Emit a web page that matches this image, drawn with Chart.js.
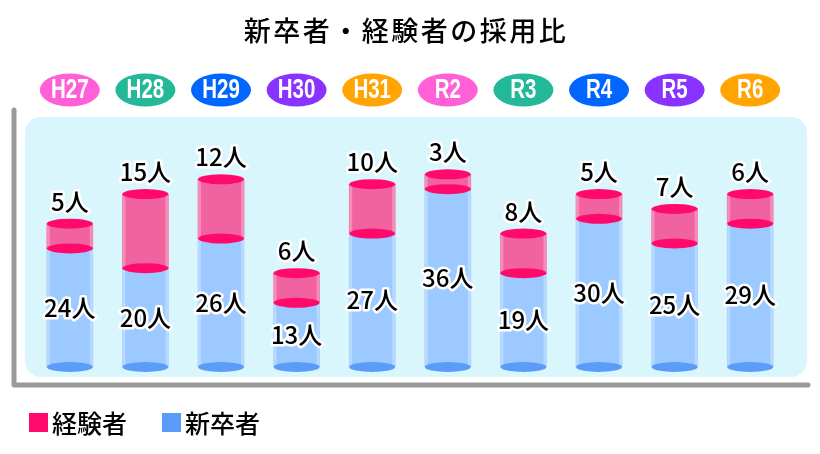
<!DOCTYPE html>
<html>
<head>
<meta charset="utf-8">
<script src="https://cdn.jsdelivr.net/npm/chart.js@4"></script>
<style>
  html, body { margin: 0; padding: 0; background: #fff; }
  canvas { display: block; }
</style>
</head>
<body>
<canvas id="graficoCilindro" width="820" height="454"></canvas>
<script>
// dados
const nendo = ["H27", "H28", "H29", "H30", "H31", "R2", "R3", "R4", "R5", "R6"];
const shinsotsu = [24, 20, 26, 13, 27, 36, 19, 30, 25, 29];
const keiken = [5, 15, 12, 6, 10, 3, 8, 5, 7, 6];
const nendoCores = ["#FF60D8", "#22B898", "#0066FF", "#8833FF", "#FFA400",
                    "#FF60D8", "#22B898", "#0066FF", "#8833FF", "#FFA400"];
const titulo = "新卒者・経験者の採用比";

const JP = "'Noto Sans CJK JP', 'Noto Sans', sans-serif";

function elipse(ctx, x, y, rx, ry, cor) {
    ctx.beginPath();
    ctx.ellipse(x, y, rx, ry, 0, 0, Math.PI * 2);
    ctx.fillStyle = cor;
    ctx.fill();
}

function textoContorno(ctx, txt, x, y) {
    ctx.lineJoin = "round";
    ctx.lineWidth = 5;
    ctx.strokeStyle = "#fff";
    ctx.strokeText(txt, x, y);
    ctx.fillStyle = "#000";
    ctx.fillText(txt, x, y);
}

// fundo, eixo em L e etiquetas de ano
const fundo = {
    id: "fundo",
    beforeDraw(chart) {
        const ctx = chart.ctx;
        ctx.save();
        ctx.fillStyle = "#fff";
        ctx.fillRect(0, 0, chart.width, chart.height);

        ctx.beginPath();
        ctx.roundRect(25, 117, 782, 260, 16);
        ctx.fillStyle = "#DAF6FD";
        ctx.fill();

        ctx.beginPath();
        ctx.moveTo(14, 110);
        ctx.lineTo(14, 385);
        ctx.lineTo(808, 385);
        ctx.lineWidth = 5;
        ctx.lineCap = "round";
        ctx.lineJoin = "round";
        ctx.strokeStyle = "#9A9A9A";
        ctx.stroke();

        const xs = chart.scales.x;
        nendo.forEach((n, i) => {
            const x = xs.getPixelForValue(i);
            elipse(ctx, x, 90, 30, 16.5, nendoCores[i]);
            ctx.save();
            ctx.translate(x, 91);
            ctx.scale(0.76, 1);
            ctx.font = "bold 27px 'Liberation Sans', Arial, sans-serif";
            ctx.textAlign = "center";
            ctx.textBaseline = "middle";
            ctx.fillStyle = "#fff";
            ctx.fillText(n, 0, 0);
            ctx.restore();
        });
        ctx.restore();
    },
    afterDatasetsDraw(chart) {
        const ctx = chart.ctx;
        const azul = chart.getDatasetMeta(0).data;
        const rosa = chart.getDatasetMeta(1).data;
        ctx.save();

        // brilho nas bordas dos cilindros
        [azul, rosa].forEach(barras => barras.forEach(b => {
            const w = b.width;
            ctx.fillStyle = "rgba(255,255,255,0.28)";
            ctx.fillRect(b.x - w / 2, b.y, 3, b.base - b.y);
            ctx.fillRect(b.x + w / 2 - 3, b.y, 3, b.base - b.y);
        }));

        azul.forEach(b => elipse(ctx, b.x, b.base, b.width / 2, 5, "#5B9CF8"));
        rosa.forEach(b => {
            elipse(ctx, b.x, b.base, b.width / 2, 5, "#FF0A6C");
            elipse(ctx, b.x, b.y, b.width / 2, 5, "#FF0A6C");
        });

        ctx.font = "500 24px " + JP;
        ctx.textAlign = "center";
        ctx.textBaseline = "middle";
        azul.forEach((b, i) => textoContorno(ctx, shinsotsu[i] + "人", b.x, (b.y + b.base) / 2));
        rosa.forEach((b, i) => textoContorno(ctx, keiken[i] + "人", b.x, b.y - 22));

        // titulo
        ctx.font = "500 27px " + JP;
        ctx.letterSpacing = "2.5px";
        ctx.fillStyle = "#000";
        ctx.fillText(titulo, 406, 31);
        ctx.letterSpacing = "0px";

        // legenda
        ctx.textAlign = "left";
        ctx.font = "500 25px " + JP;
        const itens = [["経験者", "#FF0A6C", 29], ["新卒者", "#5B9CF8", 162]];
        itens.forEach(([txt, cor, x]) => {
            ctx.fillStyle = cor;
            ctx.fillRect(x, 413, 19, 19);
            textoContorno(ctx, txt, x + 23, 423);
        });
        ctx.restore();
    }
};

new Chart(document.getElementById("graficoCilindro"), {
    type: "bar",
    data: {
        labels: nendo,
        datasets: [{
            label: "新卒者",
            data: shinsotsu,
            backgroundColor: "#9CC9FF",
            barThickness: 46
        }, {
            label: "経験者",
            data: keiken,
            backgroundColor: "#F0639E",
            barThickness: 46
        }]
    },
    options: {
        responsive: false,
        animation: false,
        layout: { padding: { left: 32, right: 32, top: 120, bottom: 87 } },
        scales: {
            x: { stacked: true, display: false },
            y: { stacked: true, display: false, min: 0, max: 50 }
        },
        plugins: {
            legend: { display: false },
            tooltip: { enabled: false }
        }
    },
    plugins: [fundo]
});
</script>
</body>
</html>
